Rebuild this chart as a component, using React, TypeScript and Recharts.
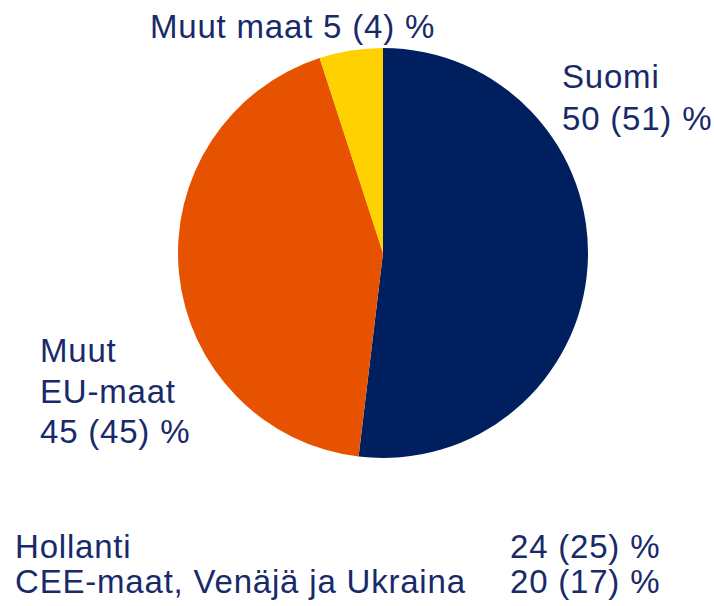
import React from 'react';
import { PieChart, Pie, Cell } from 'recharts';

// share of sales by region, as drawn in the pie (%)
const regions = ['Suomi', 'Muut EU-maat', 'Muut maat'];
const shares = [51.9, 43.1, 5.0];
const colors = ['#001f5f', '#e65200', '#ffd100'];

// label texts
const suomiLabel = ['Suomi', '50 (51) %'];
const euLabel = ['Muut', 'EU-maat', '45 (45) %'];
const otherLabel = 'Muut maat 5 (4) %';
const footRows = ['Hollanti', 'CEE-maat, Venäjä ja Ukraina'];
const footValues = ['24 (25) %', '20 (17) %'];

const TEXT = '#182a6a';
const FONT = '"Liberation Sans", Arial, sans-serif';

export default function App() {
    const data = regions.map((name, i) => ({ name, value: shares[i] }));

    return (
        <div style={{ position: 'absolute', left: 0, top: 0, width: 714, height: 606, background: '#fff' }}>
            <PieChart width={714} height={606} margin={{ top: 0, right: 0, bottom: 0, left: 0 }}>
                <Pie
                    data={data}
                    dataKey="value"
                    cx={383}
                    cy={253}
                    outerRadius={205}
                    startAngle={90}
                    endAngle={-270}
                    stroke="none"
                    isAnimationActive={false}
                >
                    {data.map((entry, index) => (
                        <Cell key={`cell-${index}`} fill={colors[index]} />
                    ))}
                </Pie>
            </PieChart>
            <svg
                width={714}
                height={606}
                style={{ position: 'absolute', left: 0, top: 0, pointerEvents: 'none', letterSpacing: 0.8 }}
                fontFamily={FONT}
                fontSize={33}
                fill={TEXT}
            >
                <text x={150} y={38}>{otherLabel}</text>
                {suomiLabel.map((t, i) => (
                    <text key={t} x={562} y={88 + i * 42}>{t}</text>
                ))}
                {euLabel.map((t, i) => (
                    <text key={t} x={40} y={362 + i * 40.5}>{t}</text>
                ))}
                {footRows.map((t, i) => (
                    <text key={t} x={15} y={558 + i * 35}>{t}</text>
                ))}
                {footValues.map((t, i) => (
                    <text key={t} x={510} y={558 + i * 35}>{t}</text>
                ))}
            </svg>
        </div>
    );
}
